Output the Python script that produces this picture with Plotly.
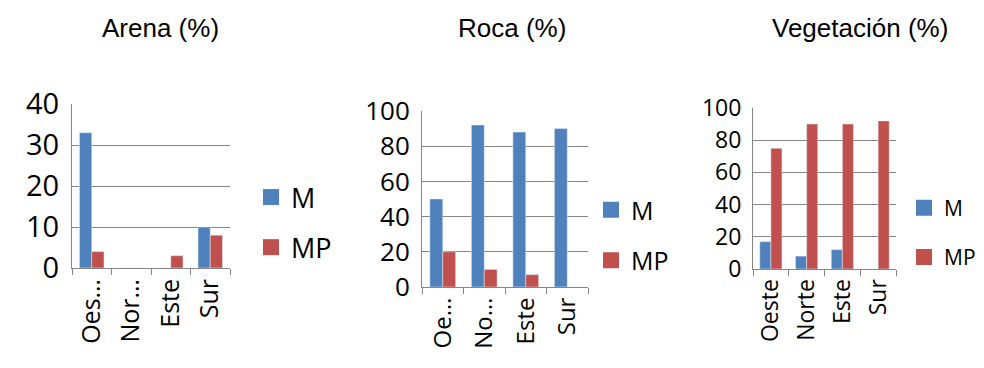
import plotly.graph_objects as go

categories = ["Oeste", "Norte", "Este", "Sur"]
arena_labels = ["Oes…", "Nor…", "Este", "Sur"]
roca_labels = ["Oe…", "No…", "Este", "Sur"]
veg_labels = ["Oeste", "Norte", "Este", "Sur"]

arena_M = [33, 0, 0, 10]
arena_MP = [4, 0, 3, 8]
roca_M = [50, 92, 88, 90]
roca_MP = [20, 10, 7, 0]
veg_M = [17, 8, 12, 0]
veg_MP = [75, 90, 90, 92]

titles = ["Arena (%)", "Roca (%)", "Vegetación (%)"]

BLUE = "#4F81BD"
RED = "#C0504D"
GRID = "#868686"
# page body has an 8px margin; figure is sized to fit the window
W, H = 976, 360

def px_x(a, b):
    return [a / W, b / W]

def px_y(top, bottom):
    return [1 - bottom / H, 1 - top / H]

panels = [
    dict(M=arena_M, MP=arena_MP, labels=arena_labels, xd=px_x(64, 222), yd=px_y(96, 260),
         rng=[0, 40], dtick=10, tfs=29, cfs=25, leg=dict(x=243, y=214.5, fs=27, gap=12),
         title_x=152),
    dict(M=roca_M, MP=roca_MP, labels=roca_labels, xd=px_x(414, 580), yd=px_y(103, 279),
         rng=[0, 100], dtick=20, tfs=26, cfs=24, leg=dict(x=583, y=227, fs=25, gap=15),
         title_x=504),
    dict(M=veg_M, MP=veg_MP, labels=veg_labels, xd=px_x(745, 888), yd=px_y(100, 261),
         rng=[0, 100], dtick=20, tfs=23, cfs=23, leg=dict(x=896, y=224.5, fs=21, gap=19),
         title_x=852),
]

fig = go.Figure()
layout = dict(
    width=W, height=H, margin=dict(l=0, r=0, t=0, b=0, autoexpand=False),
    paper_bgcolor="white", plot_bgcolor="white",
    barmode="group", bargap=0.38, bargroupgap=0,
    font=dict(family="Open Sans, Liberation Sans, sans-serif", color="black"),
    annotations=[],
)

for i, p in enumerate(panels):
    n = "" if i == 0 else str(i + 1)
    legname = "legend" + n
    for name, vals, col in (("M", p["M"], BLUE), ("MP", p["MP"], RED)):
        fig.add_trace(go.Bar(x=categories, y=vals, name=name, marker_color=col,
                             xaxis="x" + n, yaxis="y" + n, showlegend=False,
                             legendgroup=name + n))
        fig.add_trace(go.Scatter(x=[None], y=[None], mode="markers", name=name,
                                 marker=dict(symbol="square", size=16, color=col),
                                 xaxis="x" + n, yaxis="y" + n, legend=legname,
                                 legendgroup=name + n))
    layout["xaxis" + n] = dict(
        domain=p["xd"], anchor="y" + n, type="category", automargin=False,
        tickmode="array", tickvals=categories, ticktext=p["labels"],
        tickangle=-90, tickfont=dict(size=p["cfs"]),
        showline=True, linecolor=GRID, ticks="outside", tickson="boundaries",
        ticklen=6, tickcolor=GRID, showgrid=False, zeroline=False,
    )
    layout["yaxis" + n] = dict(
        domain=p["yd"], anchor="x" + n, range=p["rng"], dtick=p["dtick"], automargin=False,
        tickfont=dict(size=p["tfs"]), showgrid=True, gridcolor=GRID, gridwidth=1,
        showline=True, linecolor=GRID, zeroline=False, ticks="", ticklabelstandoff=6,
    )
    layout[legname] = dict(
        x=p["leg"]["x"] / W, y=1 - p["leg"]["y"] / H, xanchor="left", yanchor="middle",
        font=dict(size=p["leg"]["fs"]), bgcolor="rgba(0,0,0,0)",
        tracegroupgap=p["leg"]["gap"], itemwidth=30, itemsizing="trace",
    )
    layout["annotations"].append(dict(
        text=titles[i], x=p["title_x"] / W, y=1 - 20 / H, xref="paper", yref="paper",
        showarrow=False, xanchor="center", yanchor="middle",
        font=dict(size=26, family="Liberation Sans, Arial, sans-serif"),
    ))

fig.update_layout(**layout)
fig.write_html("out.html")
